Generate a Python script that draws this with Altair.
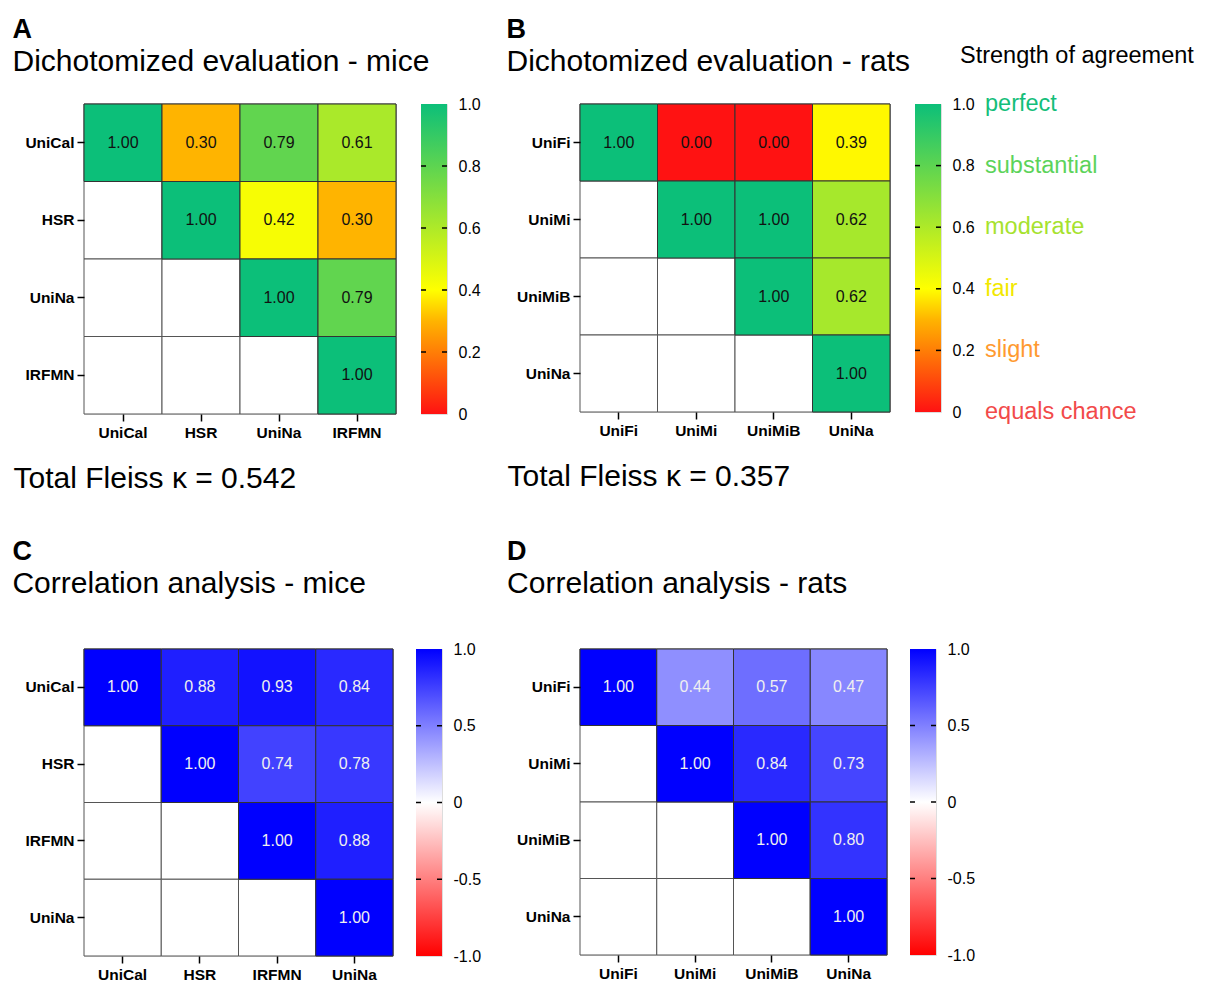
import altair as alt
import pandas as pd

FONT = "Liberation Sans"

# ---------------- data ----------------
mice_agree_names = ["UniCal", "HSR", "UniNa", "IRFMN"]
mice_agree_rows = [[1.00, 0.30, 0.79, 0.61], [1.00, 0.42, 0.30], [1.00, 0.79], [1.00]]

rats_agree_names = ["UniFi", "UniMi", "UniMiB", "UniNa"]
rats_agree_rows = [[1.00, 0.00, 0.00, 0.39], [1.00, 1.00, 0.62], [1.00, 0.62], [1.00]]

mice_corr_names = ["UniCal", "HSR", "IRFMN", "UniNa"]
mice_corr_rows = [[1.00, 0.88, 0.93, 0.84], [1.00, 0.74, 0.78], [1.00, 0.88], [1.00]]

rats_corr_names = ["UniFi", "UniMi", "UniMiB", "UniNa"]
rats_corr_rows = [[1.00, 0.44, 0.57, 0.47], [1.00, 0.84, 0.73], [1.00, 0.80], [1.00]]

agree_ticks = [0, 0.2, 0.4, 0.6, 0.8, 1.0]
agree_tick_labels = ["0", "0.2", "0.4", "0.6", "0.8", "1.0"]
agree_strength = ["equals chance", "slight", "fair", "moderate", "substantial", "perfect"]
agree_strength_colors = ["#F24A4A", "#FF9A30", "#F2E800", "#A6E22E", "#5CD35A", "#14BE7A"]

corr_ticks = [-1.0, -0.5, 0, 0.5, 1.0]
corr_tick_labels = ["-1.0", "-0.5", "0", "0.5", "1.0"]

agree_domain = [0, 0.3, 0.4, 1.0]
agree_range = ["#FF1212", "#FFB400", "#FFFF00", "#0CBF79"]
corr_domain = [-1.0, 0, 1.0]
corr_range = ["#FF0000", "#FFFFFF", "#0000FF"]

fleiss_mice = "Total Fleiss \u03ba = 0.542"
fleiss_rats = "Total Fleiss \u03ba = 0.357"

LABEL_SIZE = 15.5


def label_expr(ticks, labels):
    parts = [f"abs(datum.value - ({t})) < 1e-6 ? '{l}'" for t, l in zip(ticks, labels)]
    return " : ".join(parts) + " : ''"


def heatmap(names, rows, domain, rng, text_color, w, h, footer=None, footer_x=-71):
    grid = pd.DataFrame([{"row": r, "col": c} for r in names for c in names])
    vals = []
    for i, row in enumerate(rows):
        for k, v in enumerate(row):
            vals.append({"row": names[i], "col": names[i + k], "value": v})
    vdf = pd.DataFrame(vals)

    xaxis = dict(orient="bottom", labelFontSize=LABEL_SIZE, labelFontWeight="bold",
                 labelColor="black", labelFont=FONT, tickColor="black", tickSize=7,
                 tickWidth=1.5, labelPadding=4, domain=False, labelAngle=0)
    if footer:
        xaxis.update(title=footer, titleFontSize=30, titleFontWeight="normal", titleFont=FONT,
                     titleColor="black", titleAnchor="start", titleAlign="left",
                     titleBaseline="alphabetic", titleX=footer_x, titleY=73)
    else:
        xaxis.update(title=None)
    x = alt.X("col:N", sort=names, scale=alt.Scale(paddingInner=0, paddingOuter=0),
              axis=alt.Axis(**xaxis))
    y = alt.Y("row:N", sort=names, scale=alt.Scale(paddingInner=0, paddingOuter=0),
              axis=alt.Axis(orient="left", labelFontSize=LABEL_SIZE, labelFontWeight="bold",
                            labelColor="black", labelFont=FONT, tickColor="black", tickSize=7,
                            tickWidth=1.5, labelPadding=3, domain=False, title=None))
    base = alt.Chart(grid).mark_rect(fill="white", stroke="#555555", strokeWidth=1).encode(x=x, y=y)
    colored = alt.Chart(vdf).mark_rect(stroke="#333333", strokeWidth=1).encode(
        x=x, y=y,
        color=alt.Color("value:Q", scale=alt.Scale(domain=domain, range=rng, interpolate="rgb"),
                        legend=None))
    text = alt.Chart(vdf).mark_text(font=FONT, fontSize=16, color=text_color).encode(
        x=x, y=y, text=alt.Text("value:Q", format=".2f"))
    return alt.layer(base, colored, text).properties(width=w, height=h)


def colorbar(domain, rng, ticks, tick_labels, w, h, strength=None):
    lo, hi = domain[0], domain[-1]
    df = pd.DataFrame({"lo": [lo], "hi": [hi]})
    grad = alt.LinearGradient(
        gradient="linear",
        stops=[alt.GradientStop(color=c, offset=(d - lo) / (hi - lo)) for d, c in zip(domain, rng)],
        x1=0, x2=0, y1=1, y2=0)
    yscale = alt.Scale(domain=[lo, hi], nice=False, zero=False)
    bar = alt.Chart(df).mark_rect(fill=grad).encode(
        y=alt.Y("lo:Q", scale=yscale,
                axis=alt.Axis(orient="right", values=ticks, labelExpr=label_expr(ticks, tick_labels),
                              ticks=False, domain=False, grid=False, labelFontSize=16,
                              labelFont=FONT, labelColor="black", labelPadding=11,
                              labelFlush=False, labelOverlap=False, labelBound=False,
                              labelBaseline="middle", title=None)),
        y2="hi:Q",
        x=alt.value(0), x2=alt.value(w))
    tdf = pd.DataFrame({"v": ticks[1:-1]})
    tl = alt.Chart(tdf).mark_rule(color="black", strokeWidth=1.5).encode(
        y=alt.Y("v:Q", scale=yscale), x=alt.value(0), x2=alt.value(5))
    tr = alt.Chart(tdf).mark_rule(color="black", strokeWidth=1.5).encode(
        y=alt.Y("v:Q", scale=yscale), x=alt.value(w - 5), x2=alt.value(w))
    layers = [bar, tl, tr]
    if strength is not None:
        names, colors = strength
        sdf = pd.DataFrame({"v": ticks, "label": names})
        layers.append(alt.Chart(sdf).mark_text(align="left", baseline="middle", fontSize=23.5,
                                               font=FONT).encode(
            y=alt.Y("v:Q", scale=yscale), x=alt.value(w + 44), text="label:N",
            color=alt.Color("label:N", scale=alt.Scale(domain=names, range=colors), legend=None)))
        head = pd.DataFrame({"t": ["Strength of agreement"]})
        layers.append(alt.Chart(head).mark_text(align="left", baseline="alphabetic", fontSize=23.5,
                                                font=FONT, color="black").encode(
            text="t:N", x=alt.value(w + 19), y=alt.value(-41)))
    return alt.layer(*layers).properties(width=w, height=h)


def panel(letter, subtitle, heat, bar, spacing, dx=0, offset=18):
    return alt.hconcat(heat, bar, spacing=spacing).resolve_scale(color="independent").properties(
        title=alt.TitleParams(text=letter, subtitle=subtitle, anchor="start", font=FONT,
                              fontSize=27, fontWeight="bold", color="black",
                              subtitleFont=FONT, subtitleFontSize=30, subtitleColor="black",
                              subtitlePadding=3, offset=offset, dx=dx))


heatA = heatmap(mice_agree_names, mice_agree_rows, agree_domain, agree_range, "#111111",
                312, 310, footer=fleiss_mice, footer_x=-71)
heatB = heatmap(rats_agree_names, rats_agree_rows, agree_domain, agree_range, "#111111",
                310, 308, footer=fleiss_rats, footer_x=-73)
heatC = heatmap(mice_corr_names, mice_corr_rows, corr_domain, corr_range, "#F0F0F0", 309, 307)
heatD = heatmap(rats_corr_names, rats_corr_rows, corr_domain, corr_range, "#F0F0F0", 307, 306)

barA = colorbar(agree_domain, agree_range, agree_ticks, agree_tick_labels, 26, 310)
barB = colorbar(agree_domain, agree_range, agree_ticks, agree_tick_labels, 26, 308,
                strength=(agree_strength, agree_strength_colors))
barC = colorbar(corr_domain, corr_range, corr_ticks, corr_tick_labels, 26, 307)
barD = colorbar(corr_domain, corr_range, corr_ticks, corr_tick_labels, 26, 306)

pA = panel("A", "Dichotomized evaluation - mice", heatA, barA, 22, offset=18)
pB = panel("B", "Dichotomized evaluation - rats", heatB, barB, 22, offset=-34.5)
pC = panel("C", "Correlation analysis - mice", heatC, barC, 20, dx=-12, offset=41)
pD = panel("D", "Correlation analysis - rats", heatD, barD, 20, dx=-9, offset=41)

row1 = alt.hconcat(pA, pB, spacing=25).resolve_scale(color="independent")
row2 = alt.hconcat(pC, pD, spacing=25).resolve_scale(color="independent")

chart = alt.vconcat(row1, row2, spacing=43).resolve_scale(color="independent").properties(
    padding={"left": 12, "top": 15, "right": 5, "bottom": 3}
).configure_view(stroke="black", strokeWidth=2).configure(font=FONT, background="white")

chart.save("out.html", embed_options={"renderer": "svg", "actions": False})
